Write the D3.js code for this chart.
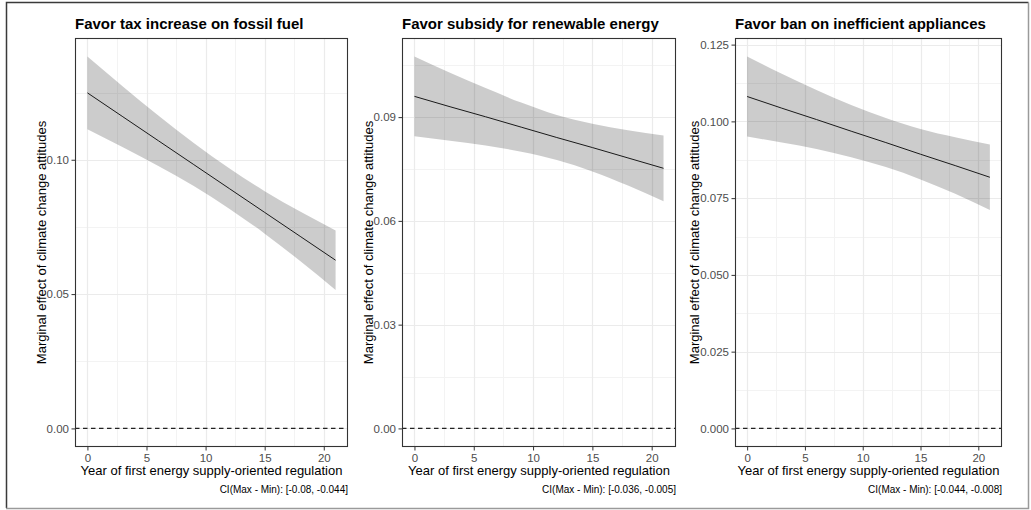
<!DOCTYPE html>
<html>
<head>
<meta charset="utf-8">
<script src="https://cdn.jsdelivr.net/npm/d3@7"></script>
<style>
  body { margin: 0; background: #fff; }
  svg { display: block; font-family: 'Liberation Sans', Arial, sans-serif; }
  .tick text { fill: #4d4d4d; font-size: 11.5px; font-family: 'Liberation Sans', Arial, sans-serif; }
  .tick line { stroke: #333; }
  .domain { display: none; }
</style>
</head>
<body>
<div id="chart"></div>
<script>
const xValues = [0, 3, 6, 9, 12, 15, 18, 21];

const taxFit = [0.1249, 0.1160, 0.1071, 0.0982, 0.0893, 0.0804, 0.0715, 0.0626];
const taxUpper = [0.1384, 0.1273, 0.1165, 0.1062, 0.0968, 0.0883, 0.0807, 0.0737];
const taxLower = [0.1114, 0.1047, 0.0977, 0.0902, 0.0818, 0.0725, 0.0623, 0.0515];

const subsidyFit = [0.0960, 0.0930, 0.0901, 0.0871, 0.0841, 0.0812, 0.0782, 0.0752];
const subsidyUpper = [0.1075, 0.1028, 0.0984, 0.0942, 0.0906, 0.0881, 0.0862, 0.0847];
const subsidyLower = [0.0845, 0.0832, 0.0818, 0.0800, 0.0776, 0.0743, 0.0702, 0.0657];

const banFit = [0.1081, 0.1043, 0.1006, 0.0968, 0.0931, 0.0893, 0.0856, 0.0818];
const banUpper = [0.1211, 0.1155, 0.1102, 0.1053, 0.1011, 0.0975, 0.0948, 0.0925];
const banLower = [0.0951, 0.0931, 0.0910, 0.0883, 0.0851, 0.0811, 0.0764, 0.0711];

const panelTitles = [
  'Favor tax increase on fossil fuel',
  'Favor subsidy for renewable energy',
  'Favor ban on inefficient appliances'
];
const captions = [
  'CI(Max - Min): [-0.08, -0.044]',
  'CI(Max - Min): [-0.036, -0.005]',
  'CI(Max - Min): [-0.044, -0.008]'
];

const xTicks = [0, 5, 10, 15, 20];
const xMinor = [2.5, 7.5, 12.5, 17.5];
const yTicksTax = [0, 0.05, 0.1];
const yMinorTax = [0.025, 0.075, 0.125];
const yLabelsTax = ['0.00', '0.05', '0.10'];
const yTicksSubsidy = [0, 0.03, 0.06, 0.09];
const yMinorSubsidy = [0.015, 0.045, 0.075, 0.105];
const yLabelsSubsidy = ['0.00', '0.03', '0.06', '0.09'];
const yTicksBan = [0, 0.025, 0.05, 0.075, 0.1, 0.125];
const yMinorBan = [0.0125, 0.0375, 0.0625, 0.0875, 0.1125];
const yLabelsBan = ['0.000', '0.025', '0.050', '0.075', '0.100', '0.125'];

const xTitle = 'Year of first energy supply-oriented regulation';
const yTitle = 'Marginal effect of climate change attitudes';

const width = 1031;
const height = 510;
const panelTop = 38;
const panelBottom = 447;

const panels = [
  { left: 75, right: 348, fit: taxFit, upper: taxUpper, lower: taxLower,
    yTicks: yTicksTax, yMinor: yMinorTax, yLabels: yLabelsTax, yTitleX: 41 },
  { left: 402, right: 676, fit: subsidyFit, upper: subsidyUpper, lower: subsidyLower,
    yTicks: yTicksSubsidy, yMinor: yMinorSubsidy, yLabels: yLabelsSubsidy, yTitleX: 368 },
  { left: 735, right: 1002, fit: banFit, upper: banUpper, lower: banLower,
    yTicks: yTicksBan, yMinor: yMinorBan, yLabels: yLabelsBan, yTitleX: 694 }
];

const svg = d3
  .select('#chart')
  .append('svg')
  .attr('width', width)
  .attr('height', height);

svg.append('rect').attr('width', width).attr('height', height).attr('fill', '#fff');

// outer frame of the figure: dark on top/left, lighter on right/bottom
svg
  .append('path')
  .attr('d', 'M6.5,508 L6.5,2.5 L1028.5,2.5')
  .attr('fill', 'none')
  .attr('stroke', '#3a3a3a')
  .attr('stroke-width', 1.5);
svg
  .append('path')
  .attr('d', 'M1028.5,2.5 L1028.5,508.5 L6,508.5')
  .attr('fill', 'none')
  .attr('stroke', '#9a9a9a')
  .attr('stroke-width', 1.5);

const drawPanel = (p, i) => {
  const rows = xValues.map((x, j) => ({ x, fit: p.fit[j], upper: p.upper[j], lower: p.lower[j] }));

  const xScale = d3.scaleLinear().domain([-1.05, 22.05]).range([p.left, p.right]);

  const yMin = Math.min(0, d3.min(rows, (d) => d.lower));
  const yMax = Math.max(0, d3.max(rows, (d) => d.upper));
  const pad = (yMax - yMin) * 0.05;
  const yScale = d3.scaleLinear().domain([yMin - pad, yMax + pad]).range([panelBottom, panelTop]);

  const g = svg.append('g');

  // grid
  g.selectAll('.minor-x')
    .data(xMinor)
    .enter()
    .append('line')
    .attr('x1', (d) => Math.round(xScale(d)) + 0.5)
    .attr('x2', (d) => Math.round(xScale(d)) + 0.5)
    .attr('y1', panelTop).attr('y2', panelBottom)
    .attr('stroke', '#f3f3f3');
  g.selectAll('.minor-y')
    .data(p.yMinor)
    .enter()
    .append('line')
    .attr('x1', p.left).attr('x2', p.right)
    .attr('y1', (d) => Math.round(yScale(d)) + 0.5)
    .attr('y2', (d) => Math.round(yScale(d)) + 0.5)
    .attr('stroke', '#f3f3f3');
  g.selectAll('.major-x')
    .data(xTicks)
    .enter()
    .append('line')
    .attr('x1', (d) => Math.round(xScale(d)) + 0.5)
    .attr('x2', (d) => Math.round(xScale(d)) + 0.5)
    .attr('y1', panelTop).attr('y2', panelBottom)
    .attr('stroke', '#ebebeb')
    .attr('stroke-width', 1.2);
  g.selectAll('.major-y')
    .data(p.yTicks)
    .enter()
    .append('line')
    .attr('x1', p.left).attr('x2', p.right)
    .attr('y1', (d) => Math.round(yScale(d)) + 0.5)
    .attr('y2', (d) => Math.round(yScale(d)) + 0.5)
    .attr('stroke', '#ebebeb')
    .attr('stroke-width', 1.2);

  // confidence ribbon
  const area = d3
    .area()
    .x((d) => xScale(d.x))
    .y0((d) => yScale(d.lower))
    .y1((d) => yScale(d.upper))
    .curve(d3.curveMonotoneX);
  g.append('path')
    .datum(rows)
    .attr('fill', '#000')
    .attr('fill-opacity', 0.2)
    .attr('d', area);

  const line = d3
    .line()
    .x((d) => xScale(d.x))
    .y((d) => yScale(d.fit))
    .curve(d3.curveMonotoneX);
  g.append('path')
    .datum(rows)
    .attr('fill', 'none')
    .attr('stroke', '#1a1a1a')
    .attr('stroke-width', 1)
    .attr('d', line);

  // reference line at zero
  g.append('line')
    .attr('x1', p.left).attr('x2', p.right)
    .attr('y1', yScale(0)).attr('y2', yScale(0))
    .attr('stroke', '#222')
    .attr('stroke-width', 1.1)
    .attr('stroke-dasharray', '4.5,3.5');

  // panel border
  g.append('rect')
    .attr('x', p.left + 0.5)
    .attr('y', panelTop + 0.5)
    .attr('width', p.right - p.left - 1)
    .attr('height', panelBottom - panelTop - 1)
    .attr('fill', 'none')
    .attr('stroke', '#333')
    .attr('stroke-width', 1.1);

  // axes
  const xAxis = d3.axisBottom(xScale).tickValues(xTicks).tickSize(3.5).tickPadding(3).tickSizeOuter(0);
  g.append('g')
    .attr('class', 'x-axis')
    .attr('transform', `translate(0, ${panelBottom})`)
    .call(xAxis);

  const yAxis = d3
    .axisLeft(yScale)
    .tickValues(p.yTicks)
    .tickFormat((d, k) => p.yLabels[k])
    .tickSize(3.5)
    .tickPadding(2.5)
    .tickSizeOuter(0);
  g.append('g')
    .attr('class', 'y-axis')
    .attr('transform', `translate(${p.left}, 0)`)
    .call(yAxis);

  // texts
  g.append('text')
    .attr('x', p.left)
    .attr('y', 29)
    .attr('font-size', 15)
    .attr('font-weight', 'bold')
    .attr('fill', '#000')
    .text(panelTitles[i]);

  g.append('text')
    .attr('x', (p.left + p.right) / 2)
    .attr('y', 475)
    .attr('text-anchor', 'middle')
    .attr('font-size', 13)
    .attr('fill', '#000')
    .text(xTitle);

  g.append('text')
    .attr('transform', `translate(${p.yTitleX + 4.5}, ${(panelTop + panelBottom) / 2}) rotate(-90)`)
    .attr('text-anchor', 'middle')
    .attr('font-size', 13)
    .attr('fill', '#000')
    .text(yTitle);

  g.append('text')
    .attr('x', p.right)
    .attr('y', 493)
    .attr('text-anchor', 'end')
    .attr('font-size', 10)
    .attr('fill', '#000')
    .text(captions[i]);
};

panels.forEach(drawPanel);
</script>
</body>
</html>
